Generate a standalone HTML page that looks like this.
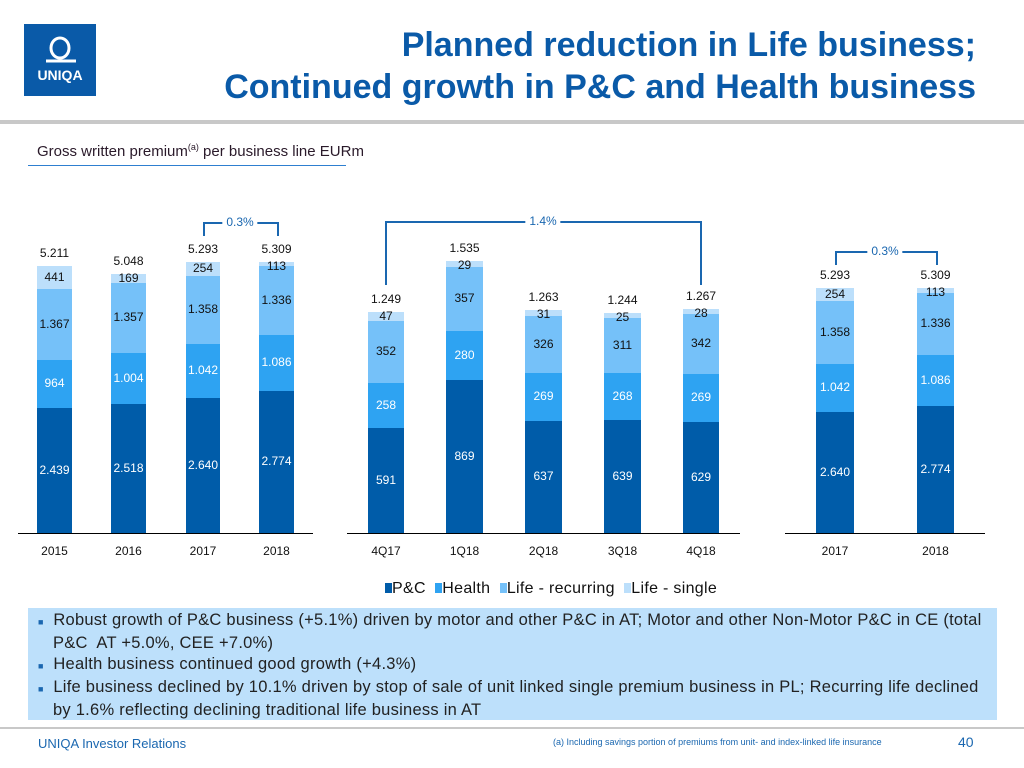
<!DOCTYPE html>
<html><head><meta charset="utf-8"><style>
body{margin:0;width:1024px;height:768px;position:relative;background:#fff;font-family:"Liberation Sans",Arial,sans-serif;overflow:hidden}
.a{position:absolute}
.b{position:absolute}
.t{position:absolute;font-size:12px;text-align:center;width:60px;margin-left:-30px;color:#111}
.w{color:#fff}
.x{position:absolute;font-size:12px;text-align:center;width:60px;margin-left:-30px;color:#111}
.p{background:#005ca9}.h{background:#2ea3f2}.r{background:#75c1f9}.s{background:#bcdffb}
.bl{position:absolute;border:2px solid #1a67b0;border-bottom:none;height:10px}
.pc{position:absolute;font-size:12px;color:#1a67b0;background:#fff;padding:0 4px;transform:translate(-50%,-50%)}
.ln{white-space:nowrap;letter-spacing:0.25px}
</style></head><body>
<div class="a" style="left:24px;top:24px;width:72px;height:72px;background:#0a5aa8;color:#fff;text-align:center">
<svg width="72" height="44" viewBox="0 0 72 44"><ellipse cx="36" cy="24" rx="9" ry="10" fill="none" stroke="#fff" stroke-width="3"/><path d="M22 37 H52" stroke="#fff" stroke-width="3"/></svg>
<div style="font-weight:bold;font-size:14px;margin-top:-6px">UNIQA</div></div>
<div class="a" style="right:48px;top:24px;text-align:right;color:#0a5aa8;font-weight:bold;font-size:34px;line-height:42px;white-space:nowrap">Planned reduction in Life business;<br>Continued growth in P&amp;C and Health business</div>
<div class="a" style="left:0;top:120px;width:1024px;height:4px;background:#c8c8c8"></div>
<div class="a" style="left:37px;top:142px;font-size:15px;color:#2a1a2a">Gross written premium<sup style="font-size:9px">(a)</sup> per business line EURm</div>
<div class="a" style="left:28px;top:165px;width:318px;height:1px;background:#2e7fd0"></div>

<div class="a" style="left:18px;top:533px;width:295px;height:1px;background:#000"></div>
<div class="a" style="left:347px;top:533px;width:393px;height:1px;background:#000"></div>
<div class="a" style="left:785px;top:533px;width:200px;height:1px;background:#000"></div>

<div id="c"></div>
<script>
var bars=[
[37,72,[266,289,360,408],["5.211","441","1.367","964","2.439"],"2015"],
[111,146,[274,283,353,404],["5.048","169","1.357","1.004","2.518"],"2016"],
[186,220,[262,276,344,398],["5.293","254","1.358","1.042","2.640"],"2017"],
[259,294,[262,266,335,391],["5.309","113","1.336","1.086","2.774"],"2018"],
[368,404,[312,321,383,428],["1.249","47","352","258","591"],"4Q17"],
[446,483,[261,267,331,380],["1.535","29","357","280","869"],"1Q18"],
[525,562,[310,316,373,421],["1.263","31","326","269","637"],"2Q18"],
[604,641,[313,318,373,420],["1.244","25","311","268","639"],"3Q18"],
[683,719,[309,314,374,422],["1.267","28","342","269","629"],"4Q18"],
[816,854,[288,301,364,412],["5.293","254","1.358","1.042","2.640"],"2017"],
[917,954,[288,293,355,406],["5.309","113","1.336","1.086","2.774"],"2018"]];
var cls=["s","r","h","p"],h="";
bars.forEach(function(b){var x=b[0],w=b[1]-b[0],y=b[2],c=(b[0]+b[1])/2;
var ys=y.concat([533]);
for(var i=0;i<4;i++){h+='<div class="b '+cls[i]+'" style="left:'+x+'px;top:'+ys[i]+'px;width:'+w+'px;height:'+(ys[i+1]-ys[i])+'px"></div>';}
h+='<div class="t" style="left:'+c+'px;top:'+(y[0]-20)+'px">'+b[3][0]+'</div>';
h+='<div class="t" style="left:'+c+'px;top:'+(Math.max(y[0]-3,(y[0]+y[1])/2-8))+'px">'+b[3][1]+'</div>';
h+='<div class="t" style="left:'+c+'px;top:'+((y[1]+y[2])/2-8)+'px">'+b[3][2]+'</div>';
h+='<div class="t w" style="left:'+c+'px;top:'+((y[2]+y[3])/2-8)+'px">'+b[3][3]+'</div>';
h+='<div class="t w" style="left:'+c+'px;top:'+((y[3]+533)/2-8)+'px">'+b[3][4]+'</div>';
h+='<div class="x" style="left:'+c+'px;top:544px">'+b[4]+'</div>';});
document.getElementById("c").innerHTML=h;
</script>

<div class="bl" style="left:203px;top:222px;width:72px;height:12px"></div><div class="pc" style="left:240px;top:222px">0.3%</div>
<div class="bl" style="left:385px;top:221px;width:313px;height:62px"></div><div class="pc" style="left:543px;top:221px">1.4%</div>
<div class="bl" style="left:835px;top:251px;width:99px;height:12px"></div><div class="pc" style="left:885px;top:251px">0.3%</div>

<div class="a" style="left:385px;top:580px;font-size:16px;color:#111;letter-spacing:0.3px;white-space:nowrap">
<span style="display:inline-block;width:7px;height:10px;background:#005ca9"></span>P&amp;C &nbsp;<span style="display:inline-block;width:7px;height:10px;background:#2ea3f2"></span>Health &nbsp;<span style="display:inline-block;width:7px;height:10px;background:#75c1f9"></span>Life - recurring &nbsp;<span style="display:inline-block;width:7px;height:10px;background:#bcdffb"></span>Life - single</div>

<div class="a" style="left:28px;top:608px;width:969px;height:112px;background:#bde0fb"></div>
<div class="a" style="left:38px;top:610px;width:960px;font-size:16.5px;line-height:21px;color:#222">
<div class="ln"><span style="color:#1a67b0;font-size:9px">■</span>&nbsp; Robust growth of P&amp;C business (+5.1%) driven by motor and other P&amp;C in AT; Motor and other Non-Motor P&amp;C in CE (total</div>
<div class="ln" style="padding-left:15px">P&amp;C&nbsp; AT +5.0%, CEE +7.0%)</div>
<div class="ln"><span style="color:#1a67b0;font-size:9px">■</span>&nbsp; Health business continued good growth (+4.3%)</div>
<div class="ln"><span style="color:#1a67b0;font-size:9px">■</span>&nbsp; Life business declined by 10.1% driven by stop of sale of unit linked single premium business in PL; Recurring life declined</div>
<div class="ln" style="padding-left:15px">by 1.6% reflecting declining traditional life business in AT</div>
</div>
<div class="a" style="left:0;top:727px;width:1024px;height:2px;background:#c8c8c8"></div>
<div class="a" style="left:38px;top:736px;font-size:13px;color:#1a67b0">UNIQA Investor Relations</div>
<div class="a" style="left:553px;top:737px;font-size:9px;color:#1a67b0">(a) Including savings portion of premiums from unit- and index-linked life insurance</div>
<div class="a" style="left:958px;top:734px;font-size:14px;color:#1a67b0">40</div>
</body></html>
